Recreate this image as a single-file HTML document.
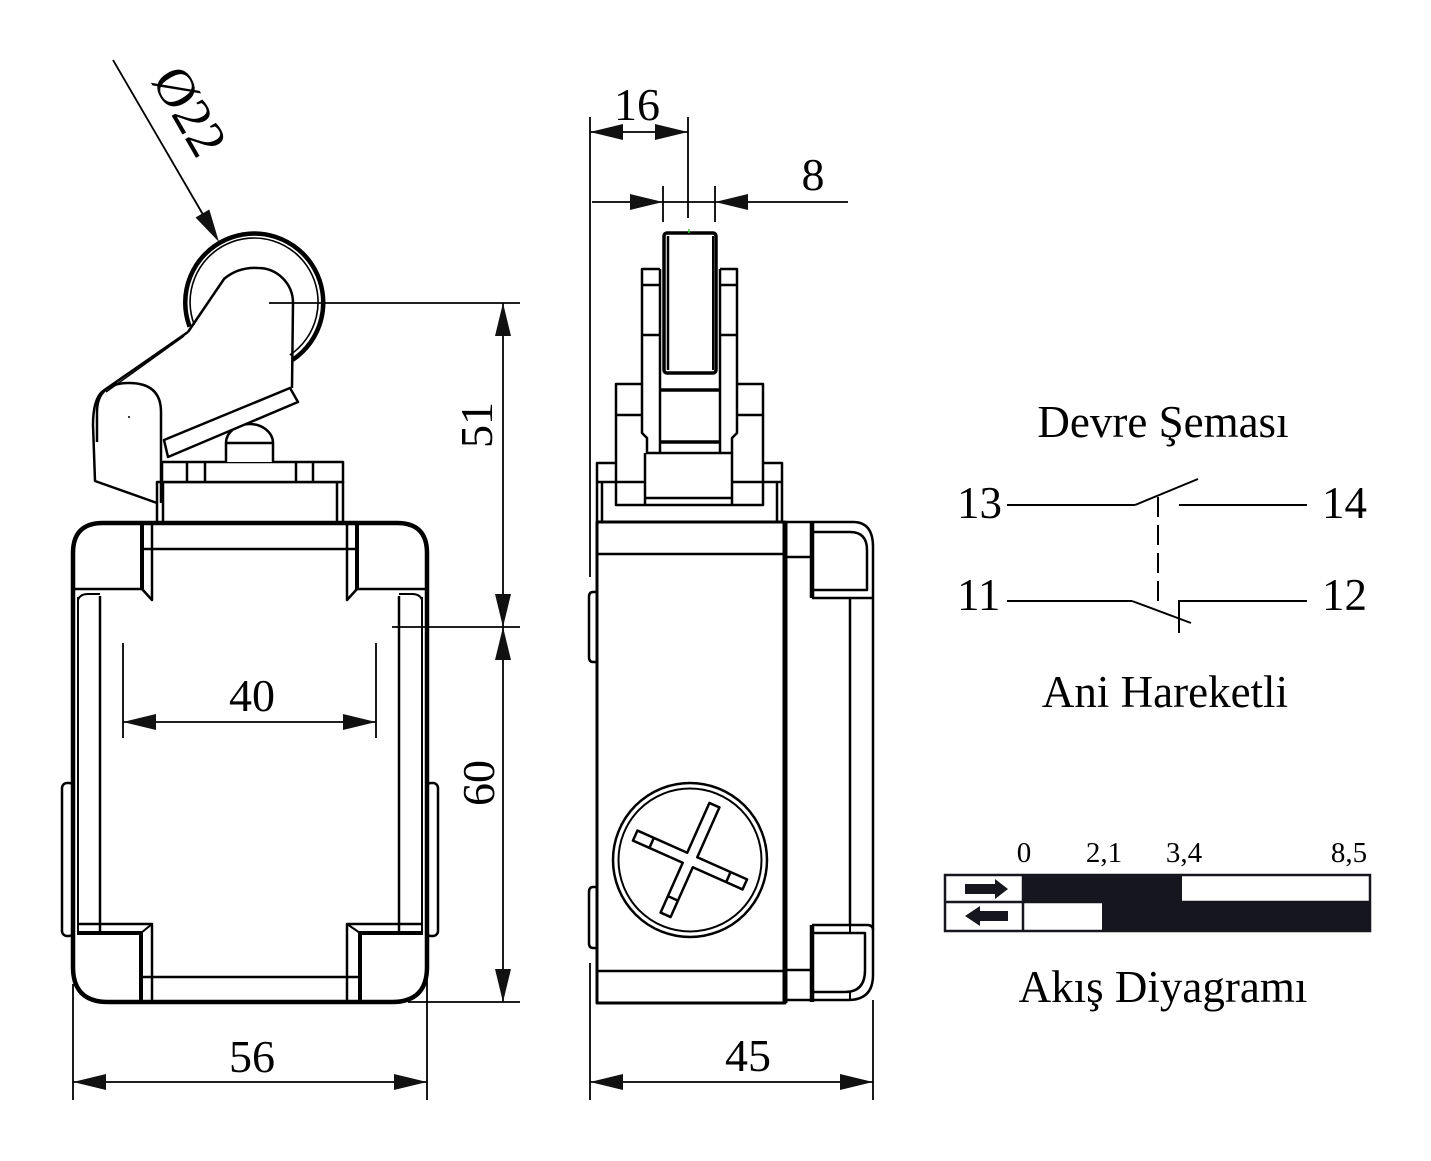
<!DOCTYPE html>
<html><head><meta charset="utf-8"><style>
html,body{margin:0;padding:0;background:#fff;}
svg{display:block;}
text{font-family:"Liberation Serif","DejaVu Serif",serif;fill:#000;stroke:none;}
</style></head><body>
<svg width="1431" height="1161" viewBox="0 0 1431 1161" xmlns="http://www.w3.org/2000/svg">
<rect x="0" y="0" width="1431" height="1161" fill="#fff"/>

<!-- ================= FRONT VIEW ================= -->
<g fill="none" stroke="#000" stroke-linejoin="round">
  <rect x="62" y="783" width="12" height="153" rx="5" stroke-width="2.5"/>
  <rect x="426" y="783" width="12" height="153" rx="5" stroke-width="2.5"/>
  <path d="M103 523 H397 Q427 523 427 553 V967 Q427 1002 392 1002 H108 Q73 1002 73 967 V553 Q73 523 103 523 Z" stroke-width="4.5" fill="#fff"/>
  <path d="M78 597 V931 M422 597 V931" stroke-width="2"/>
  <path d="M100 596 V933 M399 596 V933" stroke-width="2.5"/>
  <path d="M143 549 H357" stroke-width="2.5"/>
  <path d="M142 523 V589" stroke-width="4"/>
  <path d="M75 589 H142 L152 600 V525" stroke-width="2.5"/>
  <path d="M78 600 Q80 594 88 594 H100" stroke-width="2"/>
  <path d="M357 523 V589" stroke-width="4"/>
  <path d="M425 589 H357 L347 600 V525" stroke-width="2.5"/>
  <path d="M422 600 Q420 594 412 594 H399" stroke-width="2"/>
  <path d="M77 924 H152 V1002" stroke-width="2.5"/>
  <path d="M152 924 L141 933" stroke-width="2"/>
  <path d="M77 933 H141 V1002" stroke-width="4"/>
  <path d="M423 924 H347 V1002" stroke-width="2.5"/>
  <path d="M347 924 L360 933" stroke-width="2"/>
  <path d="M423 933 H360 V1002" stroke-width="4"/>
  <path d="M141 977 H360" stroke-width="2.5"/>

  <rect x="157" y="482" width="186" height="40" stroke-width="2.5" fill="#fff"/>
  <path d="M163 482 V522 M337 482 V522" stroke-width="2.5"/>
  <rect x="162" y="462" width="181" height="20" stroke-width="2.5" fill="#fff"/>
  <path d="M187 462 V482 M205 462 V482 M296 462 V482 M313 462 V482" stroke-width="2.5"/>
  <path d="M226 462 V443 A23.5 19 0 0 1 273 443 V462" stroke-width="2.5" fill="#fff"/>
  <path d="M226 443 H273" stroke-width="2.5"/>

  <path d="M189.6 326.7 A69 69 0 1 1 292.6 359.9" stroke-width="4.5"/>
  <path d="M194.3 324.9 A64 64 0 1 1 289.8 355.1" stroke-width="1.6"/>

  <path d="M188 332 L224 279 Q238 267 258 268 A35 35 0 0 1 293 303 L292 388" stroke-width="2.5"/>
  <path d="M188 332 L103 391 Q93 399 93 425 L95 481 L157 503" stroke-width="2.5"/>
  <path d="M184 336 L106 392" stroke-width="1.5"/>
  <path d="M97 442 V412 Q97 383 129 383 Q161 383 161 412 V503" stroke-width="2.5"/>
  <circle cx="129" cy="417" r="1" fill="#000" stroke="none"/>
  <polygon points="164,440 290,388 298,402 168,457" stroke-width="2.5" fill="#fff"/>
</g>

<g fill="none" stroke="#000" stroke-width="1.8">
  <line x1="113" y1="60" x2="205" y2="218"/>
  <line x1="269" y1="303" x2="520" y2="303"/>
  <line x1="392" y1="627" x2="520" y2="627"/>
  <line x1="408" y1="1002" x2="520" y2="1002"/>
  <line x1="503" y1="303" x2="503" y2="1002"/>
  <line x1="123" y1="643" x2="123" y2="738"/>
  <line x1="376" y1="643" x2="376" y2="738"/>
  <line x1="123" y1="722" x2="376" y2="722"/>
  <line x1="73" y1="984" x2="73" y2="1100"/>
  <line x1="427" y1="967" x2="427" y2="1100"/>
  <line x1="73" y1="1082" x2="427" y2="1082"/>
</g>
<g fill="#111" stroke="none">
  <polygon points="219,242 209.3,209.5 195.5,217.5"/>
  <polygon points="503,303 495,336 511,336"/>
  <polygon points="503,627 495,594 511,594"/>
  <polygon points="503,627 495,660 511,660"/>
  <polygon points="503,1002 495,969 511,969"/>
  <polygon points="123,722 156,714 156,730"/>
  <polygon points="376,722 343,714 343,730"/>
  <polygon points="73,1082 106,1074 106,1090"/>
  <polygon points="427,1082 394,1074 394,1090"/>
</g>
<text transform="translate(151,80) rotate(60)" font-size="54">Ø22</text>
<text x="252" y="711" font-size="46" text-anchor="middle">40</text>
<text x="252" y="1072" font-size="46" text-anchor="middle">56</text>
<text transform="translate(492,425) rotate(-90)" font-size="46" text-anchor="middle">51</text>
<text transform="translate(494,783) rotate(-90)" font-size="46" text-anchor="middle">60</text>

<!-- ================= SIDE VIEW ================= -->
<g fill="none" stroke="#000" stroke-linejoin="round">
  <path d="M597 592 H593 Q589 592 589 597 V657 Q589 662 593 662 H597" stroke-width="2.5"/>
  <path d="M597 887 H593 Q589 887 589 892 V943 Q589 948 593 948 H597" stroke-width="2.5"/>
  <rect x="597" y="463" width="185" height="59" stroke-width="2.5" fill="#fff"/>
  <path d="M602 482 V522 M777 482 V522 M597 482 H616 M763 482 H782" stroke-width="2.5"/>
  <rect x="616" y="384" width="147" height="121" stroke-width="2.5" fill="#fff"/>
  <path d="M616 415 H642 M737 415 H763 M616 482 H645 M732 482 H763" stroke-width="2.5"/>
  <path d="M645 453 V505 M732 453 V505 M645 498 H732" stroke-width="2.5"/>
  <path d="M660 269 H642 V433 L647 438 V453 H732 V438 L737 433 V269 H720" stroke-width="2.5" fill="#fff"/>
  <path d="M660 269 V453 M720 269 V453" stroke-width="2.5"/>
  <path d="M642 285 H660 M720 285 H737 M642 335 H660 M720 335 H737" stroke-width="2.5"/>
  <path d="M660 390 H720 M660 442 H720" stroke-width="3.5"/>
  <rect x="664" y="233" width="52" height="140" rx="3" stroke-width="3.5" fill="#fff"/>
  <path d="M668 236 V370" stroke-width="2.5"/>
  <path d="M713 236 V370" stroke-width="2"/>

  <rect x="597" y="522" width="188" height="481" stroke-width="3" fill="#fff"/>
  <path d="M785 522 V1003" stroke-width="5"/>
  <path d="M597 554 H785 M597 971 H785" stroke-width="2.5"/>
  <path d="M785 522 H853 Q873 522 873 547 V975 Q873 1000 848 1000 H785" stroke-width="2.5"/>
  <path d="M812 522 V598 M812 925 V1002" stroke-width="4.5"/>
  <path d="M785 557 H812 M785 970 H812" stroke-width="2.5"/>
  <path d="M813 532 H850 Q867 532 867 550 V590 H812" stroke-width="2.5"/>
  <path d="M812 598 H873" stroke-width="2.5"/>
  <path d="M850 598 V925" stroke-width="2.5"/>
  <path d="M812 925 H867 Q873 925 873 930" stroke-width="2.5"/>
  <path d="M813 933 H865 V970 Q865 992 845 992 H813" stroke-width="2.5"/>
  <path d="M850 925 V933 M850 992 V1000" stroke-width="2"/>

  <circle cx="690" cy="860" r="77" stroke-width="2.5"/>
  <circle cx="690" cy="860" r="71.5" stroke-width="2"/>
  <g transform="rotate(24 690 860)" stroke-width="2.5">
    <path d="M630 854.5 H684.5 V800 H695.5 V854.5 H750 V865.5 H695.5 V920 H684.5 V865.5 H630 Z"/>
    <path d="M648 854.5 V865.5 M732 854.5 V865.5 M684.5 902 H695.5"/>
  </g>
</g>

<g fill="none" stroke="#000" stroke-width="1.8">
  <line x1="590" y1="117" x2="590" y2="577"/>
  <line x1="590" y1="963" x2="590" y2="1100"/>
  <line x1="688" y1="117" x2="688" y2="218"/>
  <line x1="590" y1="132" x2="688" y2="132"/>
  <line x1="663" y1="186" x2="663" y2="222"/>
  <line x1="715" y1="186" x2="715" y2="222"/>
  <line x1="592" y1="202" x2="848" y2="202"/>
  <line x1="873" y1="1000" x2="873" y2="1100"/>
  <line x1="590" y1="1082" x2="873" y2="1082"/>
</g>
<line x1="689" y1="229" x2="689" y2="233" stroke="#3c3" stroke-width="1.5"/>
<g fill="#111" stroke="none">
  <polygon points="590,132 623,124 623,140"/>
  <polygon points="688,132 655,124 655,140"/>
  <polygon points="663,202 630,194 630,210"/>
  <polygon points="715,202 748,194 748,210"/>
  <polygon points="590,1082 623,1074 623,1090"/>
  <polygon points="873,1082 840,1074 840,1090"/>
</g>
<text x="637" y="120" font-size="46" text-anchor="middle">16</text>
<text x="813" y="190" font-size="46" text-anchor="middle">8</text>
<text x="748" y="1071" font-size="46" text-anchor="middle">45</text>

<!-- ================= CIRCUIT ================= -->
<text x="1163" y="437" font-size="45" text-anchor="middle">Devre Şeması</text>
<g fill="none" stroke="#000" stroke-width="2">
  <line x1="1007" y1="505" x2="1135" y2="505"/>
  <line x1="1135" y1="505" x2="1198" y2="479"/>
  <line x1="1179" y1="505" x2="1307" y2="505"/>
  <line x1="1158" y1="497" x2="1158" y2="608" stroke-dasharray="20 8"/>
  <line x1="1007" y1="601" x2="1132" y2="601"/>
  <line x1="1132" y1="601" x2="1191" y2="623"/>
  <path d="M1179 633 V601 H1307"/>
</g>
<text x="957" y="518" font-size="45">13</text>
<text x="1322" y="518" font-size="45">14</text>
<text x="957" y="610" font-size="45">11</text>
<text x="1322" y="610" font-size="45">12</text>
<text x="1165" y="707" font-size="45" text-anchor="middle">Ani Hareketli</text>

<!-- ================= FLOW DIAGRAM ================= -->
<text x="1024" y="862" font-size="29" text-anchor="middle">0</text>
<text x="1104" y="862" font-size="29" text-anchor="middle">2,1</text>
<text x="1184" y="862" font-size="29" text-anchor="middle">3,4</text>
<text x="1349" y="862" font-size="29" text-anchor="middle">8,5</text>
<rect x="1023" y="875" width="159" height="27" fill="#16161e"/>
<rect x="1102" y="902" width="268" height="29" fill="#16161e"/>
<g fill="none" stroke="#16161e" stroke-width="2.5">
  <rect x="945" y="875" width="425" height="56"/>
  <line x1="945" y1="902" x2="1370" y2="902"/>
  <line x1="1023" y1="875" x2="1023" y2="931"/>
</g>
<g fill="#16161e" stroke="none">
  <polygon points="965,884 995,884 995,879 1008,889 995,899 995,894 965,894"/>
  <polygon points="1008,911 980,911 980,906 965,916 980,926 980,921 1008,921"/>
</g>
<text x="1163" y="1002" font-size="45" text-anchor="middle">Akış Diyagramı</text>
</svg>
</body></html>
